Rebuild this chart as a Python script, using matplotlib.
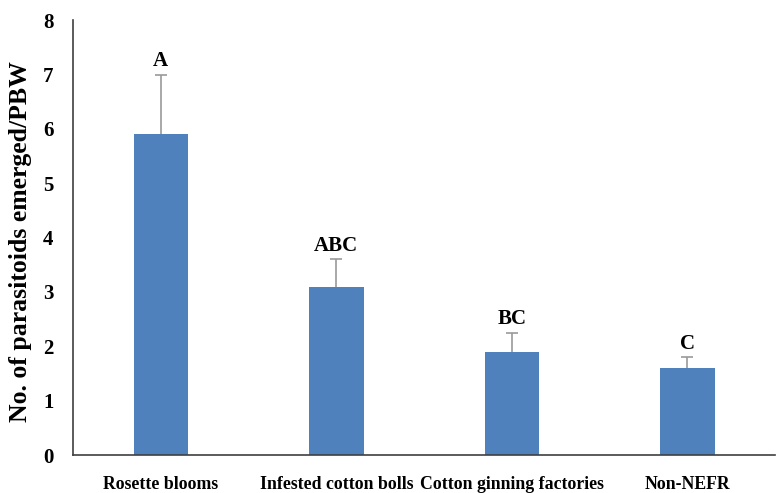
import matplotlib
matplotlib.use("Agg")
import matplotlib.pyplot as plt

categories = ["Rosette blooms", "Infested cotton bolls", "Cotton ginning factories", "Non-NEFR"]
means = [5.9, 3.1, 1.9, 1.6]
errors = [1.1, 0.5, 0.35, 0.2]
letters = ["A", "ABC", "BC", "C"]

plt.rcParams['font.family'] = ['Liberation Serif', 'DejaVu Serif']
plt.rcParams['font.weight'] = 'bold'

fig = plt.figure(figsize=(7.81, 4.93), dpi=100)
ax = fig.add_axes([0.0935, 0.077, 0.899, 0.882])
x = list(range(len(categories)))
ax.bar(x, means, width=0.31, color='#4F81BD', zorder=2)
eb = ax.errorbar(x, means, yerr=[[0]*len(errors), errors], fmt='none', ecolor='#9a9a9a',
                 elinewidth=1.2, capsize=4, capthick=1.2, zorder=1)
eb[1][0].set_visible(False)
for xi, m, e, l in zip(x, means, errors, letters):
    ax.text(xi, m + e + 0.06, l, ha='center', va='bottom', fontsize=15, fontweight='bold')

ax.set_xlim(-0.5, 3.5)
ax.set_ylim(0, 8)
ax.set_yticks(range(0, 9))
ax.set_xticks(x)
ax.set_xticklabels(categories)
ax.tick_params(axis='y', length=0, labelsize=15, pad=14)
ax.tick_params(axis='x', length=0, labelsize=12.8, pad=15)
ax.spines['top'].set_visible(False)
ax.spines['right'].set_visible(False)
ax.spines['left'].set_color('#404040')
ax.spines['bottom'].set_color('#404040')
ax.spines['left'].set_linewidth(1.2)
ax.spines['bottom'].set_linewidth(1.2)
ax.set_ylabel("No. of parasitoids emerged/PBW", fontsize=18.5, fontweight='bold')
ax.yaxis.set_label_coords(-0.058, 0.49)
for lab in ax.get_xticklabels() + ax.get_yticklabels():
    lab.set_fontweight('bold')
fig.savefig("out.png", dpi=100)
